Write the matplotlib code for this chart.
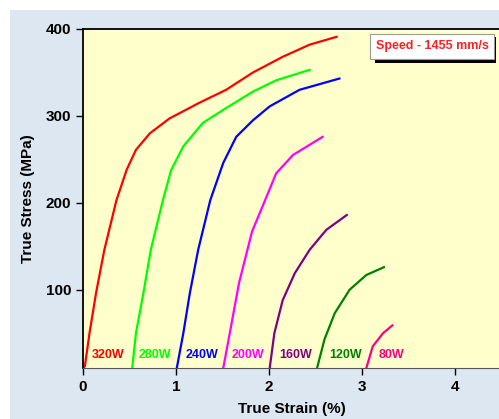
import matplotlib
matplotlib.use("Agg")
import matplotlib.pyplot as plt
from matplotlib.patches import Rectangle

plt.rcParams['font.family'] = ['Liberation Sans', 'DejaVu Sans']
plt.rcParams['font.weight'] = 'bold'

# strain (%) / stress (MPa)
labels = ['320W', '280W', '240W', '200W', '160W', '120W', '80W']
colors = ['#ff0000', '#00ff00', '#0000ff', '#ff00ff', '#800080', '#008000', '#ff0080']

strain_320 = [0.00, 0.02, 0.07, 0.14, 0.23, 0.36, 0.47, 0.57, 0.72, 0.93, 1.25, 1.54, 1.83, 2.15, 2.44, 2.73]
stress_320 = [10, 12, 50, 96, 146, 203, 238, 261, 280, 297, 315, 330, 350, 368, 382, 391]

strain_280 = [0.53, 0.57, 0.65, 0.73, 0.86, 0.95, 1.08, 1.29, 1.54, 1.83, 2.08, 2.44]
stress_280 = [10, 50, 96, 146, 203, 238, 265, 292, 309, 328, 341, 353]

strain_240 = [1.01, 1.08, 1.15, 1.24, 1.37, 1.51, 1.65, 1.83, 2.01, 2.33, 2.76]
stress_240 = [10, 50, 96, 146, 203, 246, 276, 295, 311, 330, 343]

strain_200 = [1.51, 1.58, 1.68, 1.82, 1.96, 2.08, 2.26, 2.58]
stress_200 = [10, 50, 108, 167, 203, 234, 255, 276]

strain_160 = [2.01, 2.06, 2.15, 2.28, 2.44, 2.62, 2.84]
stress_160 = [10, 50, 88, 119, 146, 169, 186]

strain_120 = [2.52, 2.60, 2.71, 2.87, 3.05, 3.24]
stress_120 = [10, 43, 73, 100, 117, 126]

strain_80 = [3.05, 3.12, 3.23, 3.33]
stress_80 = [10, 35, 50, 59]

label_x = [0.09, 0.60, 1.10, 1.60, 2.11, 2.65, 3.18]
label_y = 25

strains = [strain_320, strain_280, strain_240, strain_200, strain_160, strain_120, strain_80]
stresses = [stress_320, stress_280, stress_240, stress_200, stress_160, stress_120, stress_80]

W, H = 499, 419
fig = plt.figure(figsize=(W / 100, H / 100), dpi=100)
fig.patch.set_facecolor('white')
# light blue panel behind the plot
fig.patches.append(Rectangle((10 / W, 0), 1, 1 - 10 / H, transform=fig.transFigure,
                             facecolor='#dde7f2', edgecolor='none', zorder=-10))

ax = fig.add_axes([83 / W, 1 - 368 / H, 418 / W, 339 / H])
ax.set_facecolor('#ffffcc')

for x, y, c in zip(strains, stresses, colors):
    ax.plot(x, y, color=c, lw=1.6, solid_joinstyle='round')

for lx, lab, c in zip(label_x, labels, colors):
    ax.text(lx, label_y, lab, color=c, fontsize=9, fontweight='bold', va='center')

ax.set_xlim(0, 4.5)
ax.set_ylim(10, 400)
ax.set_xticks([0, 1, 2, 3, 4])
ax.set_yticks([100, 200, 300, 400])
ax.tick_params(labelsize=11, length=5, width=1, direction='out')
for t in ax.get_xticklabels() + ax.get_yticklabels():
    t.set_fontweight('bold')
ax.spines['right'].set_visible(False)
ax.spines['bottom'].set_color('#555555')
ax.spines['left'].set_linewidth(1.3)
ax.spines['top'].set_linewidth(1.3)

ax.set_xlabel('True Strain (%)', fontsize=11, fontweight='bold', labelpad=6)
ax.set_ylabel('True Stress (MPa)', fontsize=11, fontweight='bold', labelpad=8)

# speed label with drop shadow
fig.patches.append(Rectangle((375 / W, 1 - 63 / H), 121 / W, 26 / H, transform=fig.transFigure,
                             facecolor='black', edgecolor='none', zorder=5))
fig.patches.append(Rectangle((370 / W, 1 - 59 / H), 124 / W, 25 / H, transform=fig.transFigure,
                             facecolor='white', edgecolor='#999999', lw=0.8, zorder=6))
fig.text(432 / W, 1 - 46.5 / H, 'Speed - 1455 mm/s', color='#ff2020', fontsize=9,
         fontweight='bold', ha='center', va='center', zorder=7)

fig.savefig('out.png', dpi=100)
